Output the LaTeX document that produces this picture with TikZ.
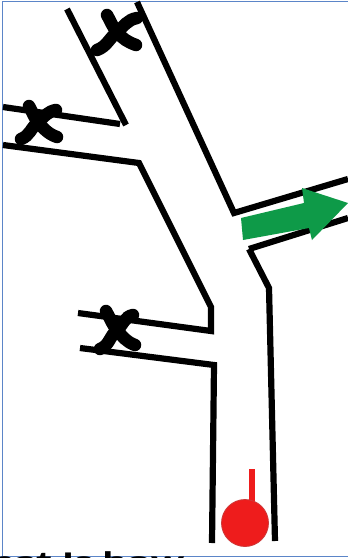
\documentclass[tikz,border=0pt]{standalone}
\usepackage{fontspec}
\setmainfont{Carlito}
\definecolor{frameblue}{HTML}{5B85C8}
\definecolor{arrowgreen}{HTML}{0E9A48}
\definecolor{bulbred}{HTML}{EE1C1C}
\tikzset{
  wall/.style={line width=6.2pt,black,line join=miter},
  valvearm/.style={line width=12.5pt,black,line cap=round},
}
\newcommand{\valveX}[5]{%
  \draw[valvearm] (#2) to[out=-60,in=130] (#1) to[out=-50,in=160] (#3);
  \draw[valvearm] (#5) to[out=20,in=-140] (#1) to[out=40,in=190] (#4);
}
\begin{document}
\begin{tikzpicture}[x=1pt,y=-1pt]
\useasboundingbox (0,0) rectangle (348,558);
\fill[white] (0,0) rectangle (348,558);
\begin{scope}
\clip (0,0) rectangle (348,558);
% frame
\draw[frameblue,line width=1pt] (2.5,556) -- (2.5,1.5) -- (348,1.5);
\draw[frameblue,line width=1pt] (0,556) -- (348,556);
% cut-off text
\node[anchor=base west,inner sep=0pt] (cut) at (-10,568) {\scalebox{1.88}[1]{\fontsize{24}{24}\selectfont\bfseries hat Is how}};
% walls
\draw[wall] (137,2) -- (234,213) -- (348,179);
\draw[wall] (249,249) -- (348,218);
\draw[wall] (249,249) -- (269,288) -- (275,541);
\draw[wall] (67,9) -- (126,125);
\draw[wall] (3,107) -- (120,124);
\draw[wall] (3,145) -- (139,163) -- (211,307) -- (211,331) -- (78,313);
\draw[wall] (80,348) -- (214,365) -- (212,543);
% valves
\valveX{117,32}{107,15}{136,45}{137,18}{97,50}
\valveX{38,122}{29,106}{57,137}{56,110}{21,139}
\valveX{117,330}{106,311}{135,345}{133,315}{100,349}
% green arrow
\fill[arrowgreen] (241,218) -- (304,203) -- (302,188) -- (348,203) -- (312,240) -- (309,228) -- (243,240) -- cycle;
% red bulb
\fill[bulbred] (249,469) rectangle (255,510);
\draw[bulbred!70!gray,fill=bulbred,line width=0.8pt] (245,523) circle (23.5pt);
\end{scope}
\end{tikzpicture}
\end{document}
